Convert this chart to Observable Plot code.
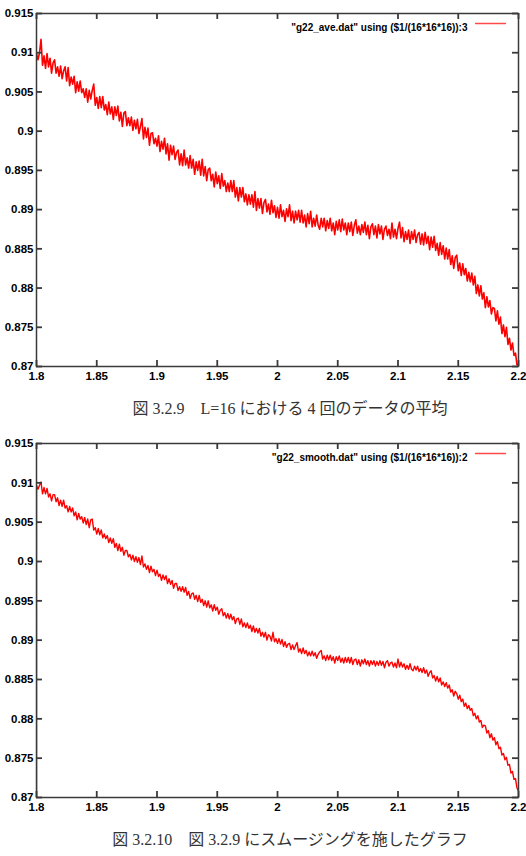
<!DOCTYPE html>
<html>
<head>
<meta charset="utf-8">
<script src="https://cdn.jsdelivr.net/npm/d3@7"></script>
<script src="https://cdn.jsdelivr.net/npm/@observablehq/plot@0.6"></script>
<style>
  html, body { margin: 0; padding: 0; background: #fff; width: 526px; height: 856px; overflow: hidden; }
  .chart { position: absolute; left: 0; }
  .caption {
    position: absolute; left: 290px; transform: translateX(-50%); white-space: nowrap;
    font-family: "Liberation Serif", "Times New Roman", "Noto Sans CJK JP", serif;
    font-size: 16px; line-height: 1; color: #333;
  }
</style>
</head>
<body>
<div id="chart1" class="chart" style="top:0px"></div>
<div id="cap1" class="caption" style="top:401px"></div>
<div id="chart2" class="chart" style="top:430px"></div>
<div id="cap2" class="caption" style="top:832px"></div>
<script>
// Axis ranges and tick positions
const xDomain = [1.8, 2.2];
const yDomain = [0.87, 0.915];
const xTicks = [1.8, 1.85, 1.9, 1.95, 2, 2.05, 2.1, 2.15, 2.2];
const yTicks = [0.87, 0.875, 0.88, 0.885, 0.89, 0.895, 0.9, 0.905, 0.91, 0.915];

// Key labels
const aveLabel = '"g22_ave.dat" using ($1/(16*16*16)):3';
const smoothLabel = '"g22_smooth.dat" using ($1/(16*16*16)):2';

// Captions
const caption1 = "図 3.2.9\u3000L=16 における 4 回のデータの平均";
const caption2 = "図 3.2.10\u3000図 3.2.9 にスムージングを施したグラフ";

// Average of 4 runs, sampled evenly over x = 1.8 … 2.2
const aveValues = [
  0.9099, 0.9091, 0.9100, 0.9117, 0.9084, 0.9096, 0.9080, 0.9099, 0.9082, 0.9093, 0.9074, 0.9087, 0.9091, 0.9074, 0.9082, 0.9070,
  0.9083, 0.9067, 0.9077, 0.9082, 0.9064, 0.9081, 0.9058, 0.9069, 0.9060, 0.9070, 0.9049, 0.9063, 0.9051, 0.9064, 0.9049, 0.9054,
  0.9043, 0.9054, 0.9037, 0.9052, 0.9041, 0.9052, 0.9060, 0.9033, 0.9043, 0.9029, 0.9044, 0.9030, 0.9044, 0.9027, 0.9034, 0.9021,
  0.9037, 0.9022, 0.9031, 0.9015, 0.9031, 0.9020, 0.9032, 0.9013, 0.9024, 0.9006, 0.9023, 0.9025, 0.9007, 0.9017, 0.9007, 0.9018,
  0.9001, 0.9014, 0.9003, 0.9015, 0.8997, 0.9006, 0.9016, 0.8990, 0.9005, 0.8992, 0.9004, 0.8982, 0.8997, 0.8998, 0.8984, 0.8991,
  0.8981, 0.8994, 0.8974, 0.8987, 0.8977, 0.8991, 0.8971, 0.8984, 0.8963, 0.8982, 0.8970, 0.8981, 0.8964, 0.8973, 0.8976, 0.8957,
  0.8971, 0.8956, 0.8976, 0.8957, 0.8966, 0.8953, 0.8969, 0.8953, 0.8964, 0.8945, 0.8961, 0.8950, 0.8962, 0.8944, 0.8964, 0.8943,
  0.8955, 0.8937, 0.8951, 0.8953, 0.8937, 0.8945, 0.8929, 0.8948, 0.8933, 0.8943, 0.8927, 0.8946, 0.8930, 0.8937, 0.8923, 0.8934,
  0.8923, 0.8937, 0.8923, 0.8937, 0.8916, 0.8928, 0.8911, 0.8928, 0.8916, 0.8928, 0.8910, 0.8920, 0.8906, 0.8919, 0.8907, 0.8919,
  0.8903, 0.8923, 0.8899, 0.8914, 0.8902, 0.8914, 0.8895, 0.8909, 0.8913, 0.8897, 0.8907, 0.8894, 0.8912, 0.8896, 0.8905, 0.8890,
  0.8903, 0.8889, 0.8906, 0.8891, 0.8899, 0.8885, 0.8901, 0.8891, 0.8906, 0.8886, 0.8898, 0.8883, 0.8898, 0.8887, 0.8899, 0.8884,
  0.8899, 0.8883, 0.8893, 0.8878, 0.8895, 0.8882, 0.8898, 0.8878, 0.8889, 0.8879, 0.8893, 0.8880, 0.8875, 0.8889, 0.8878, 0.8889,
  0.8873, 0.8886, 0.8876, 0.8889, 0.8873, 0.8883, 0.8868, 0.8885, 0.8874, 0.8887, 0.8872, 0.8888, 0.8874, 0.8883, 0.8868, 0.8883,
  0.8872, 0.8884, 0.8867, 0.8880, 0.8887, 0.8870, 0.8879, 0.8868, 0.8881, 0.8871, 0.8884, 0.8868, 0.8880, 0.8863, 0.8878, 0.8882,
  0.8868, 0.8879, 0.8864, 0.8881, 0.8869, 0.8879, 0.8862, 0.8875, 0.8879, 0.8867, 0.8875, 0.8863, 0.8883, 0.8865, 0.8875, 0.8863,
  0.8876, 0.8884, 0.8864, 0.8877, 0.8859, 0.8872, 0.8862, 0.8874, 0.8857, 0.8872, 0.8862, 0.8874, 0.8858, 0.8868, 0.8871, 0.8856,
  0.8869, 0.8855, 0.8871, 0.8857, 0.8866, 0.8849, 0.8865, 0.8852, 0.8866, 0.8848, 0.8857, 0.8842, 0.8858, 0.8843, 0.8854, 0.8837,
  0.8851, 0.8837, 0.8849, 0.8830, 0.8841, 0.8825, 0.8839, 0.8842, 0.8822, 0.8832, 0.8816, 0.8831, 0.8817, 0.8825, 0.8809, 0.8820,
  0.8808, 0.8819, 0.8804, 0.8815, 0.8793, 0.8804, 0.8790, 0.8803, 0.8786, 0.8794, 0.8775, 0.8789, 0.8776, 0.8784, 0.8767, 0.8775,
  0.8774, 0.8758, 0.8771, 0.8754, 0.8763, 0.8742, 0.8753, 0.8738, 0.8750, 0.8728, 0.8736, 0.8721, 0.8730, 0.8714, 0.8717, 0.8702, 0.8703
];

// Smoothed series on the same x grid
const smoothValues = [
  0.9097, 0.9092, 0.9097, 0.9101, 0.9086, 0.9094, 0.9086, 0.9093, 0.9082, 0.9086, 0.9077, 0.9085, 0.9085, 0.9076, 0.9081, 0.9071,
  0.9078, 0.9070, 0.9078, 0.9068, 0.9071, 0.9063, 0.9070, 0.9063, 0.9068, 0.9058, 0.9063, 0.9053, 0.9061, 0.9054, 0.9057, 0.9049,
  0.9056, 0.9047, 0.9054, 0.9043, 0.9053, 0.9054, 0.9040, 0.9043, 0.9035, 0.9042, 0.9034, 0.9040, 0.9030, 0.9035, 0.9029, 0.9033,
  0.9024, 0.9030, 0.9023, 0.9029, 0.9018, 0.9023, 0.9014, 0.9022, 0.9013, 0.9018, 0.9008, 0.9014, 0.9014, 0.9006, 0.9009, 0.9002,
  0.9008, 0.9000, 0.9006, 0.8999, 0.9005, 0.8996, 0.9007, 0.8993, 0.8997, 0.8990, 0.8995, 0.8986, 0.8994, 0.8987, 0.8990, 0.8982,
  0.8989, 0.8981, 0.8984, 0.8976, 0.8983, 0.8977, 0.8982, 0.8972, 0.8978, 0.8971, 0.8976, 0.8966, 0.8972, 0.8972, 0.8963, 0.8968,
  0.8962, 0.8968, 0.8961, 0.8967, 0.8957, 0.8962, 0.8953, 0.8959, 0.8960, 0.8952, 0.8957, 0.8949, 0.8957, 0.8948, 0.8952, 0.8944,
  0.8950, 0.8942, 0.8950, 0.8941, 0.8945, 0.8937, 0.8945, 0.8938, 0.8942, 0.8933, 0.8938, 0.8940, 0.8931, 0.8935, 0.8928, 0.8934,
  0.8927, 0.8933, 0.8926, 0.8930, 0.8921, 0.8927, 0.8928, 0.8920, 0.8927, 0.8917, 0.8922, 0.8916, 0.8922, 0.8915, 0.8919, 0.8911,
  0.8918, 0.8910, 0.8915, 0.8909, 0.8915, 0.8905, 0.8910, 0.8904, 0.8910, 0.8900, 0.8907, 0.8905, 0.8899, 0.8910, 0.8898, 0.8902,
  0.8896, 0.8902, 0.8895, 0.8901, 0.8892, 0.8898, 0.8891, 0.8895, 0.8896, 0.8888, 0.8894, 0.8888, 0.8893, 0.8897, 0.8885, 0.8889,
  0.8883, 0.8890, 0.8883, 0.8887, 0.8880, 0.8885, 0.8880, 0.8886, 0.8880, 0.8884, 0.8877, 0.8882, 0.8885, 0.8887, 0.8876, 0.8880,
  0.8874, 0.8881, 0.8875, 0.8881, 0.8874, 0.8879, 0.8871, 0.8879, 0.8874, 0.8880, 0.8872, 0.8877, 0.8871, 0.8878, 0.8872, 0.8878,
  0.8871, 0.8878, 0.8869, 0.8875, 0.8876, 0.8869, 0.8875, 0.8867, 0.8875, 0.8870, 0.8876, 0.8869, 0.8874, 0.8867, 0.8874, 0.8869,
  0.8874, 0.8867, 0.8873, 0.8868, 0.8874, 0.8868, 0.8873, 0.8865, 0.8872, 0.8874, 0.8867, 0.8871, 0.8872, 0.8866, 0.8871, 0.8865,
  0.8876, 0.8866, 0.8872, 0.8866, 0.8870, 0.8863, 0.8868, 0.8863, 0.8870, 0.8863, 0.8861, 0.8867, 0.8862, 0.8867, 0.8860, 0.8864,
  0.8859, 0.8865, 0.8858, 0.8862, 0.8854, 0.8859, 0.8861, 0.8852, 0.8855, 0.8848, 0.8854, 0.8847, 0.8852, 0.8843, 0.8847, 0.8841,
  0.8846, 0.8839, 0.8843, 0.8834, 0.8837, 0.8829, 0.8835, 0.8832, 0.8825, 0.8830, 0.8822, 0.8825, 0.8816, 0.8820, 0.8813, 0.8817,
  0.8811, 0.8813, 0.8804, 0.8807, 0.8800, 0.8804, 0.8796, 0.8798, 0.8789, 0.8792, 0.8791, 0.8782, 0.8785, 0.8776, 0.8781, 0.8773,
  0.8776, 0.8767, 0.8771, 0.8762, 0.8764, 0.8754, 0.8756, 0.8748, 0.8751, 0.8741, 0.8742, 0.8731, 0.8733, 0.8723, 0.8724, 0.8712, 0.8708
];
// The smoothing window's first output, at the very start of the range, is 0
const smoothLead = 0;

// Pair each value with its sample position on the evenly spaced x grid
function toRows(values) {
  const n = values.length - 1;
  return values.map((v, i) => ({x: xDomain[0] + (xDomain[1] - xDomain[0]) * i / n, y: v}));
}

// Straight-line shape for the key sample
const keyShape = {draw(context, l) { context.moveTo(0, 0); context.lineTo(0, -l); }};

const W = 526, MT = 13, MB = 24, ML = 36, MR = 8, TICK = 6;
const frameColor = "#3a3a3a";

function gnuplotChart(rows, label, height, lineWidth) {
  const plotH = height - MT - MB;
  const plotW = W - ML - MR;
  const tickStyle = {stroke: "#3a3a3a", strokeWidth: 1.8};
  return Plot.plot({
    width: W,
    height,
    marginTop: MT, marginBottom: MB, marginLeft: ML, marginRight: MR,
    style: {
      fontFamily: '"Liberation Sans", Arial, Helvetica, sans-serif',
      fontSize: "11.5px", fontWeight: "bold", color: "#000", background: "transparent"
    },
    x: {domain: xDomain, label: null},
    y: {domain: yDomain, label: null},
    marks: [
      Plot.line(rows, {x: "x", y: "y", stroke: "#ff0000", strokeWidth: lineWidth, clip: true}),
      // inward ticks on all four sides (mirrored, gnuplot style)
      Plot.ruleX(xTicks, {x: d => d, insetTop: plotH - TICK, ...tickStyle}),
      Plot.ruleX(xTicks, {x: d => d, insetBottom: plotH - TICK, ...tickStyle}),
      Plot.ruleY(yTicks, {y: d => d, insetRight: plotW - TICK, ...tickStyle}),
      Plot.ruleY(yTicks, {y: d => d, insetLeft: plotW - TICK, ...tickStyle}),
      Plot.frame({stroke: frameColor, strokeWidth: 1.5}),
      Plot.axisX(xTicks, {tickSize: 0, tickPadding: 5, tickFormat: d => String(d), fill: "#000", label: null}),
      Plot.axisY(yTicks, {tickSize: 0, tickPadding: 3, tickFormat: d => String(d), fill: "#000", label: null}),
      // key
      Plot.text([label], {text: d => d, frameAnchor: "top-right", dx: -51, dy: 10, textAnchor: "end", fontSize: 10, fill: "#000"}),
      Plot.vector([label], {frameAnchor: "top-right", dx: -13, dy: 10, rotate: -90, length: 30, anchor: "start", shape: keyShape, stroke: "#ff4a4a", strokeWidth: 1.3})
    ]
  });
}

const aveRows = toRows(aveValues);
const smoothRows = [{x: xDomain[0], y: smoothLead}, ...toRows(smoothValues)];

document.getElementById("chart1").append(gnuplotChart(aveRows, aveLabel, 390, 1.6));
document.getElementById("chart2").append(gnuplotChart(smoothRows, smoothLabel, 391, 1.4));
document.getElementById("cap1").textContent = caption1;
document.getElementById("cap2").textContent = caption2;
</script>
</body>
</html>
